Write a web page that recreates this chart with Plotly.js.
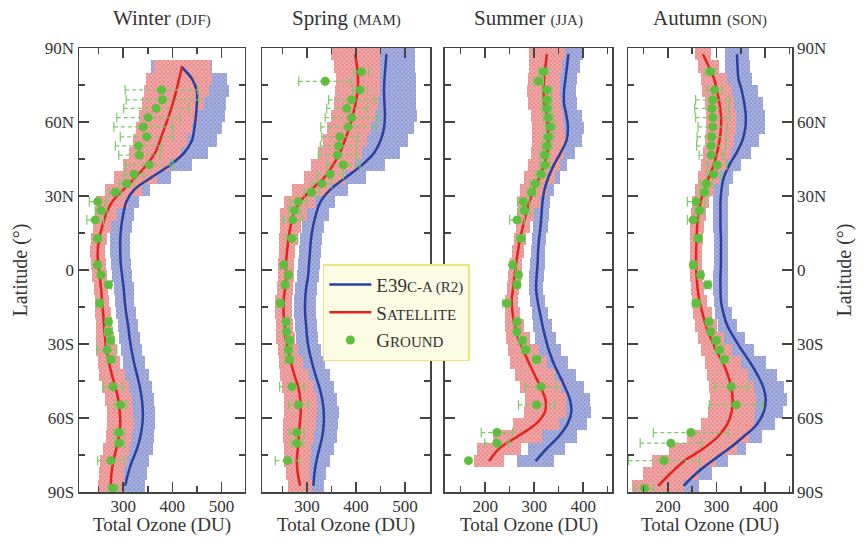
<!DOCTYPE html>
<html>
<head>
<meta charset="utf-8">
<script src="https://cdn.plot.ly/plotly-3.0.1.min.js"></script>
<style>html,body{margin:0;padding:0;background:#fff;}#chart{width:864px;height:543px;}</style>
</head>
<body>
<div id="chart"></div>
<script>
// Latitude bin centres (degrees, + = N)
const LAT = [87.5, 82.5, 77.5, 72.5, 67.5, 62.5, 57.5, 52.5, 47.5, 42.5, 37.5, 32.5, 27.5, 22.5, 17.5, 12.5, 7.5, 2.5,
  -2.5, -7.5, -12.5, -17.5, -22.5, -27.5, -32.5, -37.5, -42.5, -47.5, -52.5, -57.5, -62.5, -67.5, -72.5, -77.5, -82.5, -87.5];

// Winter (DJF)
const winterModel   = [null, 418, 440, 450, 450, 448, 445, 440, 424, 395, 357, 322, 306, 300, 296, 294, 294, 295, 298, 301, 303, 306, 310, 313, 317, 322, 328, 334, 338, 340, 339, 335, 328, 318, 310, 304];
const winterModelSd = [null, 62, 72, 65, 60, 60, 57, 52, 48, 45, 40, 33, 27, 23, 21, 20, 20, 20, 20, 20, 20, 20, 21, 22, 22, 23, 24, 24, 25, 25, 26, 28, 32, 35, 38, 40];
const winterSat     = [null, 420, 414, 408, 401, 393, 384, 375, 365, 347, 325, 300, 277, 265, 257, 251, 248, 249, 252, 255, 257, 259, 261, 263, 266, 271, 277, 284, 290, 293, 294, 291, 286, 280, 276, 275];
const winterSatSd   = [null, 58, 67, 66, 63, 60, 57, 55, 53, 48, 43, 38, 32, 23, 18, 16, 15, 15, 15, 15, 15, 16, 17, 19, 21, 23, 26, 27, 27, 27, 27, 27, 27, 27, 26, 26];

// Spring (MAM)
const springModel   = [462, 460, 458, 457, 458, 459, 457, 450, 437, 412, 379, 347, 327, 318, 312, 308, 306, 304, 302, 298, 296, 296, 298, 300, 304, 310, 317, 325, 331, 334, 334, 331, 325, 319, 315, 313];
const springModelSd = [58, 60, 64, 65, 65, 65, 62, 57, 52, 47, 42, 37, 31, 26, 23, 22, 22, 22, 22, 22, 22, 22, 22, 23, 25, 27, 29, 30, 31, 31, 30, 30, 29, 27, 24, 22];
const springSat     = [398, 402, 404, 403, 399, 393, 386, 377, 367, 353, 335, 308, 285, 272, 266, 262, 259, 257, 257, 255, 252, 252, 254, 256, 261, 267, 274, 282, 286, 287, 285, 283, 281, 279, 281, 286];
const springSatSd   = [50, 47, 45, 45, 45, 45, 45, 45, 45, 44, 42, 38, 32, 27, 22, 19, 17, 17, 17, 17, 17, 17, 18, 19, 21, 25, 30, 33, 34, 34, 34, 32, 28, 26, 25, 24];

// Summer (JJA)
const summerModel   = [370, 367, 364, 361, 361, 366, 369, 366, 354, 340, 329, 321, 317, 315, 313, 310, 308, 307, 305, 304, 307, 312, 317, 323, 330, 339, 351, 363, 373, 376, 368, 350, 325, 303, null, null];
const summerModelSd = [30, 27, 24, 24, 27, 31, 32, 31, 29, 27, 23, 19, 16, 15, 15, 15, 15, 15, 15, 15, 16, 17, 19, 21, 24, 30, 35, 39, 40, 40, 39, 38, 38, 38, null, null];
const summerSat     = [326, 323, 320, 319, 321, 326, 328, 329, 327, 320, 311, 299, 290, 283, 277, 271, 267, 263, 260, 257, 254, 256, 260, 267, 278, 289, 301, 313, 323, 322, 303, 266, 228, 208, null, null];
const summerSatSd   = [36, 34, 33, 33, 33, 32, 32, 33, 33, 33, 31, 28, 22, 17, 14, 13, 13, 13, 13, 13, 14, 16, 19, 25, 32, 38, 41, 42, 42, 43, 47, 50, 45, 30, null, null];

// Autumn (SON)
const autumnModel   = [342, 343, 345, 352, 357, 360, 359, 353, 341, 326, 315, 310, 308, 308, 308, 309, 309, 309, 308, 308, 309, 314, 322, 336, 352, 369, 384, 396, 401, 397, 383, 356, 325, 290, 258, 232];
const autumnModelSd = [25, 25, 28, 33, 38, 40, 40, 35, 30, 25, 19, 16, 15, 15, 15, 15, 15, 15, 15, 15, 15, 17, 20, 22, 25, 33, 40, 43, 43, 40, 38, 37, 35, 33, 33, 32];
const autumnSat     = [272, 284, 295, 301, 306, 309, 309, 306, 301, 294, 284, 275, 267, 263, 260, 259, 258, 258, 259, 261, 265, 271, 278, 288, 299, 313, 323, 330, 333, 331, 322, 303, 272, 233, 205, 180];
const autumnSatSd   = [17, 22, 27, 30, 30, 30, 30, 30, 29, 26, 22, 19, 18, 16, 14, 13, 13, 13, 13, 14, 16, 20, 23, 27, 32, 37, 42, 46, 47, 48, 55, 63, 70, 65, 57, 53];

// Ground stations (zonal bins)
const GROUND_LAT = [80.4, 76.5, 73, 69, 65.5, 61.8, 58, 54, 50.3, 46.6, 42.6, 38.8, 35, 31.5, 27.7, 24.1, 20.3, 12.8, 2, -2, -6, -13.5, -21, -25, -28.6, -32.4, -36.3, -47.3, -54.7, -65.9, -70.2, -77.3, -88.5];
const winterGround = [null, null, 378, 380, 367, 351, 341, 348, 331, 333, 353, 322, 307, 284, 248, 255, 243, 248, 248, 255, 270, 252, 270, 270, 274, 267, 275, 279, 295, 291, 292, 275, 279];
const winterErr    = [null, null, 74, 74, 66, 64, 60, 54, 47, 42, 48, 20, 15, 12, 17, 12, 17, 8, 6, 6, 6, 6, 6, 8, 8, 20, 8, 20, 12, 10, 10, 27, 10];
const springGround = [411, 337, 408, 391, 381, 391, 384, 367, 364, 362, 374, 347, 330, 309, 282, 274, 271, 269, 252, 262, 255, 245, 257, 258, 264, 262, 264, 269, 282, 279, 279, 260, null];
const springErr    = [15, 54, 15, 47, 41, 54, 56, 37, 37, 39, 34, 27, 20, 15, 17, 12, 20, 12, 6, 6, 6, 6, 6, 6, 8, 8, 8, 25, 20, 15, 12, 25, null];
const summerGround = [319, 309, 326, 326, 326, 329, 333, 329, 326, 322, 322, 314, 302, 295, 278, 280, 265, 273, 256, 268, 265, 244, 265, 265, 276, 283, 305, 314, 305, 224, 224, 166, null];
const summerErr    = [10, 10, 10, 10, 10, 10, 10, 10, 10, 10, 10, 10, 10, 8, 12, 12, 15, 8, 6, 6, 6, 8, 6, 6, 8, 8, 8, 32, 37, 32, 25, 0, null];
const autumnGround = [287, null, 296, 292, 290, 292, 292, 290, 289, 289, 301, 294, 279, 275, 258, 265, 252, 262, 252, 267, 282, 258, 284, 288, 299, 306, 316, 330, 340, 247, 206, 192, 152];
const autumnErr    = [10, null, 15, 35, 35, 35, 30, 30, 30, 25, 20, 15, 12, 10, 18, 10, 12, 8, 6, 6, 6, 8, 6, 6, 8, 8, 8, 34, 55, 77, 63, 73, 20];

const SEASON_NAMES = ['Winter', 'Spring', 'Summer', 'Autumn'];
const SEASON_MONTHS = ['(DJF)', '(MAM)', '(JJA)', '(SON)'];
const LAT_TICKS = [-90, -60, -30, 0, 30, 60, 90];
const LAT_LABELS = ['90S', '60S', '30S', '0', '30N', '60N', '90N'];

const seasons = [
  {model: winterModel, modelSd: winterModelSd, sat: winterSat, satSd: winterSatSd, ground: winterGround, err: winterErr},
  {model: springModel, modelSd: springModelSd, sat: springSat, satSd: springSatSd, ground: springGround, err: springErr},
  {model: summerModel, modelSd: summerModelSd, sat: summerSat, satSd: summerSatSd, ground: summerGround, err: summerErr},
  {model: autumnModel, modelSd: autumnModelSd, sat: autumnSat, satSd: autumnSatSd, ground: autumnGround, err: autumnErr}
];

const FONT = "'Liberation Serif', 'DejaVu Serif', serif";
const BLUE = '#2b3f9c', RED = '#e3241d', GREEN = '#5dbf3c', ERRGREEN = '#7cc96a';
const traces = [];

function band(mean, sd, xa, ya, fg, bg) {
  return {
    type: 'bar', orientation: 'h', y: LAT, width: 5,
    base: mean.map((m, i) => m == null ? null : m - sd[i]),
    x: sd.map(s => s == null ? null : 2 * s),
    xaxis: xa, yaxis: ya, showlegend: false, hoverinfo: 'skip',
    marker: {color: bg, line: {width: 0},
      pattern: {shape: 'x', fgcolor: fg, bgcolor: bg, size: 3, solidity: 0.45}}
  };
}

seasons.forEach((s, k) => {
  const xa = k === 0 ? 'x' : 'x' + (k + 1);
  const ya = k === 0 ? 'y' : 'y' + (k + 1);
  traces.push(band(s.model, s.modelSd, xa, ya, '#8390cc', '#aab2e0'));
  traces.push(band(s.sat, s.satSd, xa, ya, '#e47f7f', '#f2aaaa'));
  traces.push({type: 'scatter', mode: 'lines', x: s.model, y: LAT, xaxis: xa, yaxis: ya,
    line: {color: BLUE, width: 2.5, shape: 'spline'}, name: 'E39<span style="font-size:15px">C-A (R2)</span>',
    showlegend: k === 1, legendrank: 1});
  traces.push({type: 'scatter', mode: 'lines', x: s.sat, y: LAT, xaxis: xa, yaxis: ya,
    line: {color: RED, width: 2.5, shape: 'spline'}, name: 'S<span style="font-size:15px">ATELLITE</span>',
    showlegend: k === 1, legendrank: 2});
  // dashed error bars with caps
  const ex = [], ey = [], cx = [], cy = [];
  s.ground.forEach((g, i) => {
    const e = s.err[i];
    if (g == null || !e) return;
    ex.push(g - e, g + e, null); ey.push(GROUND_LAT[i], GROUND_LAT[i], null);
    cx.push(g - e, g + e); cy.push(GROUND_LAT[i], GROUND_LAT[i]);
  });
  traces.push({type: 'scatter', mode: 'lines', x: ex, y: ey, xaxis: xa, yaxis: ya,
    line: {color: ERRGREEN, width: 1.2, dash: '4px,3px'}, showlegend: false, hoverinfo: 'skip'});
  traces.push({type: 'scatter', mode: 'markers', x: cx, y: cy, xaxis: xa, yaxis: ya,
    marker: {symbol: 'line-ns', size: 7, line: {color: ERRGREEN, width: 1.2}}, showlegend: false, hoverinfo: 'skip'});
  traces.push({type: 'scatter', mode: 'markers', x: s.ground, y: GROUND_LAT, xaxis: xa, yaxis: ya,
    marker: {color: GREEN, size: 9}, name: 'G<span style="font-size:15px">ROUND</span>',
    showlegend: k === 1, legendrank: 3});
});

const domains = [[0, 0.2328], [0.2567, 0.4923], [0.5133, 0.7476], [0.77, 1]];
const xranges = [[210, 548], [208, 551], [118, 459], [118, 455]];
const xmajor = [[300, 400, 500], [300, 400, 500], [200, 300, 400], [200, 300, 400]];
const xminor = [[250, 350, 450], [250, 350, 450], [150, 250, 350, 450], [150, 250, 350, 450]];

const layout = {
  width: 864, height: 543,
  margin: {l: 79, r: 72, t: 48, b: 51},
  paper_bgcolor: '#fff', plot_bgcolor: '#fff',
  barmode: 'overlay', bargap: 0,
  font: {family: FONT, color: '#333', size: 17},
  showlegend: true,
  legend: {x: 0.342, y: 0.513, xanchor: 'left', yanchor: 'top', bgcolor: '#fcfbe4',
    bordercolor: '#efe27e', borderwidth: 1.5, font: {family: FONT, size: 19, color: '#333'},
    traceorder: 'normal', itemwidth: 42},
  annotations: []
};

const axisCommon = {showline: true, linecolor: '#444', linewidth: 1.5, mirror: 'ticks', ticks: 'inside',
  ticklen: 10, tickwidth: 1.5, tickcolor: '#444', showgrid: false, zeroline: false,
  tickfont: {family: FONT, size: 17, color: '#333'}};

for (let k = 0; k < 4; k++) {
  const xk = k === 0 ? 'xaxis' : 'xaxis' + (k + 1);
  const yk = k === 0 ? 'yaxis' : 'yaxis' + (k + 1);
  const xr = k === 0 ? 'x' : 'x' + (k + 1);
  layout[xk] = Object.assign({}, axisCommon, {
    domain: domains[k], range: xranges[k], anchor: k === 0 ? 'y' : 'y' + (k + 1),
    tickmode: 'array', tickvals: xmajor[k], ticklabelstandoff: -2,
    minor: {tickvals: xminor[k], ticklen: 6, tickwidth: 1.5, tickcolor: '#444', ticks: 'inside'}
  });
  layout[yk] = Object.assign({}, axisCommon, {
    range: [-90, 90], anchor: xr,
    tickmode: 'array', tickvals: LAT_TICKS, ticktext: LAT_LABELS,
    minor: {tickvals: [-75, -45, -15, 15, 45, 75], ticklen: 6, tickwidth: 1.5, tickcolor: '#444', ticks: 'inside'},
    showticklabels: k === 0 || k === 3,
    side: k === 3 ? 'right' : 'left'
  });
  if (k === 0 || k === 3) {
    layout[yk].title = {text: 'Latitude (°)', font: {family: FONT, size: 20, color: '#333'}, standoff: 12};
  }
  // panel title
  layout.annotations.push({
    xref: xr + ' domain', yref: 'paper', x: 0.5, y: 1.068,
    xanchor: 'center', yanchor: 'middle', showarrow: false,
    text: SEASON_NAMES[k] + ' <span style="font-size:15px">' + SEASON_MONTHS[k] + '</span>',
    font: {family: FONT, size: 21, color: '#333'}
  });
  // x-axis title
  layout.annotations.push({
    xref: xr + ' domain', yref: 'paper', x: 0.5, y: -0.074,
    xanchor: 'center', yanchor: 'middle', showarrow: false,
    text: 'Total Ozone (DU)', font: {family: FONT, size: 19, color: '#333'}
  });
}

Plotly.newPlot('chart', traces, layout, {staticPlot: true, displayModeBar: false});
</script>
</body>
</html>
